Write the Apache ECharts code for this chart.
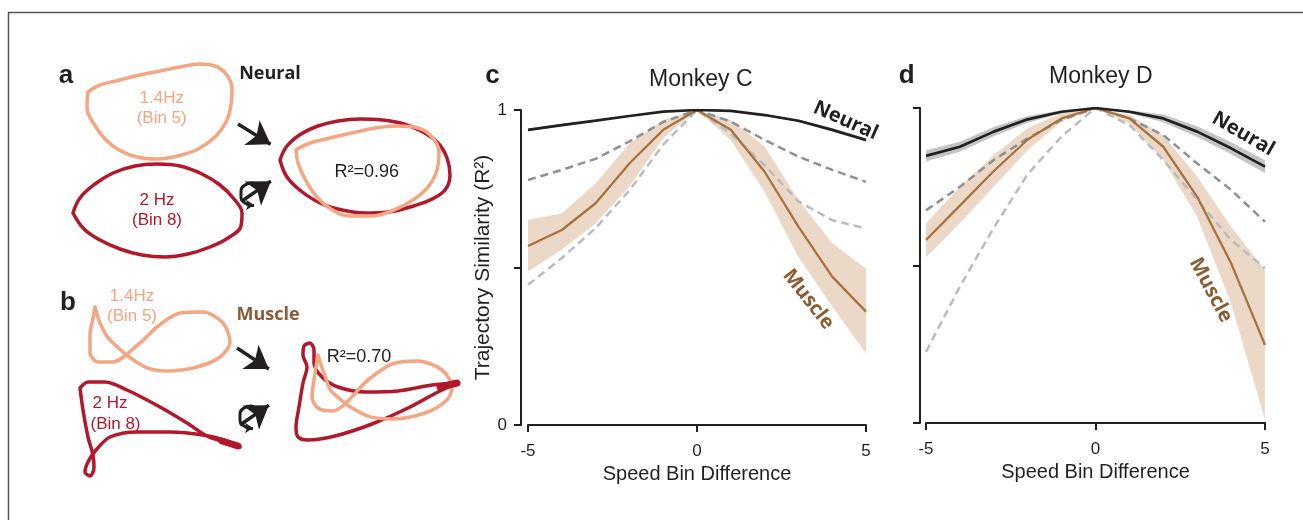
<!DOCTYPE html>
<html>
<head>
<meta charset="utf-8">
<script src="https://cdn.jsdelivr.net/npm/echarts@6/dist/echarts.min.js"></script>
<style>
  html, body { margin: 0; padding: 0; background: #fff; }
  #chart { width: 1303px; height: 520px; }
</style>
</head>
<body>
<div id="chart"></div>
<script>
// ---- Similarity curves (R^2 vs speed-bin difference) ----
const bins = ['-5', '-4', '-3', '-2', '-1', '0', '1', '2', '3', '4', '5'];
const xTickShown = ['-5', '0', '5'];
const yTickValues = [0, 0.5, 1];
const yTickText = ['0', '', '1'];

// Monkey C
const neuralC     = [0.937, 0.952, 0.966, 0.981, 0.995, 1, 0.997, 0.984, 0.966, 0.937, 0.905];
const neuralCHi   = [0.941, 0.956, 0.969, 0.983, 0.996, 1, 0.998, 0.987, 0.970, 0.942, 0.911];
const neuralCLo   = [0.933, 0.948, 0.963, 0.979, 0.994, 1, 0.996, 0.981, 0.962, 0.932, 0.899];
const muscleC     = [0.568, 0.619, 0.704, 0.830, 0.937, 1, 0.937, 0.804, 0.630, 0.471, 0.360];
const muscleCHi   = [0.651, 0.672, 0.767, 0.894, 0.968, 1, 0.968, 0.884, 0.714, 0.577, 0.497];
const muscleCLo   = [0.487, 0.556, 0.640, 0.757, 0.910, 1, 0.905, 0.740, 0.534, 0.376, 0.228];
const shuffleHiC  = [0.778, 0.810, 0.845, 0.900, 0.962, 1, 0.963, 0.905, 0.852, 0.810, 0.772];
const shuffleLoC  = [0.445, 0.530, 0.625, 0.745, 0.890, 1, 0.925, 0.825, 0.710, 0.650, 0.624];

// Monkey D
const neuralD     = [0.848, 0.877, 0.925, 0.964, 0.988, 1, 0.988, 0.967, 0.925, 0.872, 0.814];
const neuralDHi   = [0.866, 0.893, 0.940, 0.975, 0.993, 1, 0.993, 0.979, 0.942, 0.891, 0.834];
const neuralDLo   = [0.830, 0.861, 0.910, 0.953, 0.983, 1, 0.983, 0.955, 0.908, 0.853, 0.794];
const muscleD     = [0.581, 0.690, 0.800, 0.900, 0.967, 1, 0.967, 0.877, 0.718, 0.507, 0.248];
const muscleDHi   = [0.634, 0.750, 0.851, 0.936, 0.983, 1, 0.978, 0.914, 0.782, 0.623, 0.486];
const muscleDLo   = [0.526, 0.634, 0.750, 0.867, 0.957, 1, 0.951, 0.835, 0.655, 0.380, 0.010];
const shuffleHiD  = [0.675, 0.750, 0.835, 0.904, 0.962, 1, 0.967, 0.914, 0.824, 0.740, 0.639];
const shuffleLoD  = [0.226, 0.433, 0.620, 0.790, 0.910, 1, 0.946, 0.835, 0.708, 0.581, 0.491];

// ---- Example trajectories (sketch plane units) ----
const neuralSlow = [[88,92],[100,85],[120,80],[140,75],[160,71],[180,67],[200,64],[215,66],[226,74],[232,88],[231,105],[226,122],[215,137],[198,149],[178,156],[157,159],[137,157],[119,150],[105,139],[94,124],[87,108],[88,92]];
const neuralFast = [[73,213],[80,198],[95,184],[113,173],[135,166],[157,164],[180,166],[202,174],[220,185],[234,199],[242,213],[241,226],[228,238],[210,247],[188,254],[165,257],[142,255],[120,249],[100,240],[84,229],[73,213]];
const neuralFastAligned = [[280,160],[287,146],[301,134],[318,126],[338,121],[360,119],[382,120],[404,124],[423,132],[438,143],[447,158],[450,175],[445,190],[430,200],[410,207],[388,212],[365,213],[342,210],[320,203],[301,191],[287,177],[280,160]];
const neuralSlowAligned = [[296,150],[310,143],[330,138],[352,133],[375,128],[398,126],[418,128],[432,137],[439,152],[437,170],[428,187],[413,200],[394,210],[372,216],[350,216],[331,209],[316,196],[305,179],[298,163],[296,150]];

const muscleSlow = [[95,307],[100,323],[110,340],[143,366],[167,371],[197,367],[220,357],[230,342],[223,323],[203,312],[180,313],[157,327],[140,343],[112,362],[98,362],[90,353],[90,335],[93,318],[95,307]];
const muscleFast = [[80,388],[88,382],[105,382],[127,390],[160,407],[187,423],[207,436],[227,443],[240,447],[227,441],[203,435],[170,432],[137,432],[110,437],[96,450],[88,462],[85,472],[90,476],[94,468],[93,455],[88,437],[83,410],[80,388]];
const muscleFastTip = [[222,441],[238,446]];
const muscleFastAligned = [[458,383],[432,385],[398,391],[365,392],[338,387],[322,377],[314,363],[314,350],[310,343],[304,346],[303,355],[307,367],[303,383],[299,407],[296,427],[298,437],[308,440],[335,436],[372,424],[408,408],[438,392],[458,383]];
const muscleFastAlignedTip = [[440,387],[457,383]];
const muscleSlowAligned = [[318,355],[315,373],[312,397],[318,408],[332,411],[368,380],[392,364],[418,361],[442,370],[452,387],[447,400],[425,413],[392,419],[365,415],[332,392],[325,376],[320,362],[318,355]];

// arrows: [start, end] in sketch units
const arrowSegments = [
  [[238,124],[270.6,144.2]],
  [[242,201],[270.9,181.2]],
  [[237,348],[268.8,369]],
  [[240,425],[268.9,405.2]]
];
const rotateMarkA = [[258,187],[252,183],[245,185],[241,191],[241,198],[245,203],[250,205]];
const rotateMarkB = [[257,410],[251,406],[244,408],[240,414],[240,421],[244,426],[249,428]];
const rotateHeads = [
  [[249,205],[254,205]],
  [[248,428],[253,428]]
];

// ---- styling ----
const INK = '#231f20';
const LIGHT = '#f4a582';
const DARK = '#b2182b';
const BROWN = '#a8723f';
const BAND = '#ebd8c6';
const NBAND = '#c4c4c4';
const SHUF_HI = '#8e9093';
const SHUF_LO = '#b8bcc0';
const SANS = "'Liberation Sans', Arial, sans-serif";
const BOLD = "'Open Sans', 'Liberation Sans', sans-serif";

const tickFilter = (i, v) => xTickShown.indexOf(String(bins[i])) >= 0;

function xAxisFor(grid) {
  return {
    gridIndex: grid, type: 'category', data: bins, boundaryGap: false, offset: 7,
    axisLine: { show: true, lineStyle: { color: INK, width: 2 } },
    axisTick: { show: true, length: 7, interval: tickFilter, lineStyle: { color: INK, width: 2 } },
    axisLabel: { interval: tickFilter, fontSize: 17, margin: 11, color: INK, fontFamily: SANS },
    splitLine: { show: false },
    name: 'Speed Bin Difference', nameLocation: 'middle', nameGap: 25,
    nameTextStyle: { fontSize: 20, color: INK, fontFamily: SANS }
  };
}
function yAxisFor(grid, offset, showLabels) {
  return {
    gridIndex: grid, type: 'value', min: 0, max: 1, interval: 0.5, offset: offset,
    axisLine: { show: true, lineStyle: { color: INK, width: 2 } },
    axisTick: { show: true, length: 7, lineStyle: { color: INK, width: 2 } },
    axisLabel: {
      show: showLabels, fontSize: 17, margin: 14, color: INK, fontFamily: SANS,
      formatter: v => { const k = yTickValues.indexOf(v); return k >= 0 ? yTickText[k] : ''; }
    },
    splitLine: { show: false },
    name: showLabels ? 'Trajectory Similarity (R²)' : '', nameLocation: 'middle', nameGap: 14,
    nameTextStyle: { fontSize: 21, color: INK, fontFamily: SANS }
  };
}

function band(ax, lo, hi, color, key) {
  return [
    { type: 'line', xAxisIndex: ax, yAxisIndex: ax, stack: key, data: lo, symbol: 'none',
      lineStyle: { opacity: 0 }, silent: true, z: 1 },
    { type: 'line', xAxisIndex: ax, yAxisIndex: ax, stack: key, symbol: 'none',
      data: hi.map((v, i) => +(v - lo[i]).toFixed(4)),
      lineStyle: { opacity: 0 }, areaStyle: { color: color, opacity: 1 }, silent: true, z: 1 }
  ];
}
function curve(ax, data, color, width, dash, z) {
  return { type: 'line', xAxisIndex: ax, yAxisIndex: ax, data: data, symbol: 'none', silent: true, z: z,
    lineStyle: { color: color, width: width, type: dash || 'solid', cap: 'butt' } };
}
function panelSeries(ax, d) {
  return [].concat(
    band(ax, d.muscleLo, d.muscleHi, BAND, 'm' + ax),
    band(ax, d.neuralLo, d.neuralHi, NBAND, 'n' + ax),
    [
      curve(ax, d.shufHi, SHUF_HI, 2.5, [8, 5], 3),
      curve(ax, d.shufLo, SHUF_LO, 2.5, [8, 5], 3),
      curve(ax, d.muscle, BROWN, 2.3, null, 4),
      curve(ax, d.neural, INK, 2.7, null, 5)
    ]
  );
}

function trace(data, color, width, z, smooth) {
  return { type: 'line', xAxisIndex: 0, yAxisIndex: 0, data: data, symbol: 'none', silent: true,
    smooth: smooth === undefined ? 0.4 : smooth, z: z,
    lineStyle: { color: color, width: width, cap: 'round', join: 'round' } };
}

const sketchSeries = [
  trace(neuralSlow, LIGHT, 3.5, 2),
  trace(neuralFast, DARK, 3.5, 2),
  trace(neuralFastAligned, DARK, 3.5, 2),
  trace(neuralSlowAligned, LIGHT, 3.5, 3),
  trace(muscleSlow, LIGHT, 3.5, 2, 0.3),
  trace(muscleFast, DARK, 3.5, 2, 0.3),
  trace(muscleFastTip, DARK, 7, 3, 0),
  trace(muscleFastAligned, DARK, 3.5, 2, 0.3),
  trace(muscleSlowAligned, LIGHT, 3.5, 3, 0.3),
  trace(muscleFastAlignedTip, DARK, 7, 4, 0),
  trace(rotateMarkA, INK, 3, 5, 0.5),
  trace(rotateMarkB, INK, 3, 5, 0.5),
  {
    type: 'line', xAxisIndex: 0, yAxisIndex: 0, data: [], symbol: 'none', silent: true, z: 5,
    markLine: {
      silent: true, animation: false, symbol: ['none', 'arrow'], symbolSize: 22,
      label: { show: false },
      lineStyle: { color: INK, width: 3.4, type: 'solid' },
      data: arrowSegments.map(s => [{ coord: s[0] }, { coord: s[1] }])
        .concat(rotateHeads.map(s => [{ coord: s[0], lineStyle: { width: 3 } }, { coord: s[1], symbolSize: 8 }]))
    }
  }
];

function txt(x, y, text, size, color, opts) {
  opts = opts || {};
  return {
    type: 'text', x: x, y: y, rotation: (opts.rot || 0) * Math.PI / 180, silent: true, z: 10,
    style: {
      text: text, fill: color, fontSize: size,
      fontFamily: opts.family || SANS, fontWeight: opts.weight || 'normal',
      align: 'center', verticalAlign: 'middle', textAlign: 'center', textVerticalAlign: 'middle'
    }
  };
}

const graphics = [
  { type: 'rect', silent: true, z: 0,
    shape: { x: 8.5, y: 12.5, width: 1310, height: 520 },
    style: { fill: 'none', stroke: '#555555', lineWidth: 1.5 } },
  txt(66, 76, 'a', 26, INK, { weight: 'bold' }),
  txt(68, 302.7, 'b', 26, INK, { weight: 'bold' }),
  txt(492.5, 76, 'c', 26, INK, { weight: 'bold' }),
  txt(906.7, 76, 'd', 26, INK, { weight: 'bold' }),
  txt(270, 73.5, 'Neural', 18, INK, { weight: 'bold', family: BOLD }),
  txt(268, 315, 'Muscle', 18, '#8c5b35', { weight: 'bold', family: BOLD }),
  txt(161.7, 98.5, '1.4Hz', 17, LIGHT),
  txt(161.7, 118.5, '(Bin 5)', 17, LIGHT),
  txt(157, 200, '2 Hz', 17, DARK),
  txt(157, 220, '(Bin 8)', 17, DARK),
  txt(366.7, 172, 'R²=0.96', 18, INK),
  txt(132, 296, '1.4Hz', 17, LIGHT),
  txt(132, 316.7, '(Bin 5)', 17, LIGHT),
  txt(110, 403.3, '2 Hz', 17, DARK),
  txt(115.5, 424, '(Bin 8)', 17, DARK),
  txt(359, 356.7, 'R²=0.70', 18, INK),
  txt(700.8, 80, 'Monkey C', 23, INK),
  txt(1100.8, 76.7, 'Monkey D', 23, INK),
  txt(845.7, 120.7, 'Neural', 20, INK, { weight: 'bold', family: BOLD, rot: -24 }),
  txt(808.3, 299.3, 'Muscle', 20, '#8c5b32', { weight: 'bold', family: BOLD, rot: -52 }),
  txt(1243.3, 134, 'Neural', 20, INK, { weight: 'bold', family: BOLD, rot: -30 }),
  txt(1210.7, 290, 'Muscle', 20, '#8c5b32', { weight: 'bold', family: BOLD, rot: -62 })
];

const option = {
  animation: false,
  backgroundColor: '#ffffff',
  grid: [
    { left: 0, top: 0, width: 470, height: 520 },
    { left: 528, top: 110, width: 338, height: 315 },
    { left: 926, top: 108, width: 339, height: 315 }
  ],
  xAxis: [
    { gridIndex: 0, type: 'value', min: 0, max: 470, show: false },
    xAxisFor(1),
    xAxisFor(2)
  ],
  yAxis: [
    { gridIndex: 0, type: 'value', min: 0, max: 520, inverse: true, show: false },
    yAxisFor(1, 7, true),
    yAxisFor(2, 6, false)
  ],
  series: [].concat(
    sketchSeries,
    panelSeries(1, { neural: neuralC, neuralHi: neuralCHi, neuralLo: neuralCLo,
      muscle: muscleC, muscleHi: muscleCHi, muscleLo: muscleCLo, shufHi: shuffleHiC, shufLo: shuffleLoC }),
    panelSeries(2, { neural: neuralD, neuralHi: neuralDHi, neuralLo: neuralDLo,
      muscle: muscleD, muscleHi: muscleDHi, muscleLo: muscleDLo, shufHi: shuffleHiD, shufLo: shuffleLoD })
  ),
  graphic: { elements: graphics }
};

const chart = echarts.init(document.getElementById('chart'), null, { renderer: 'canvas' });
chart.setOption(option);
</script>
</body>
</html>
